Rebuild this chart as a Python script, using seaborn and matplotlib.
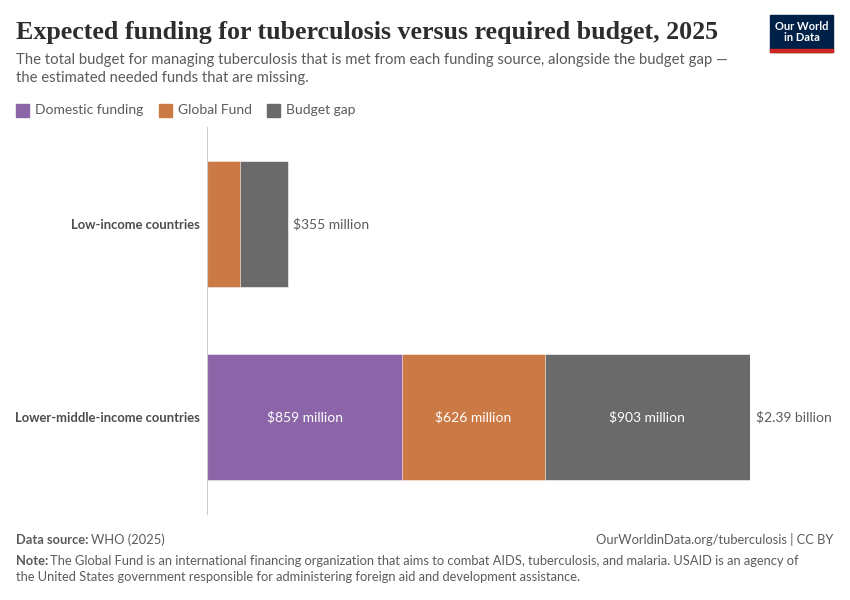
import pandas as pd
import numpy as np
import matplotlib
matplotlib.use("Agg")
import matplotlib.pyplot as plt
import seaborn as sns
from matplotlib.patches import Rectangle

# data (million US$)
countries = ["Low-income countries", "Lower-middle-income countries"]
domestic = [0, 859]
global_fund = [147, 626]
budget_gap = [208, 903]
total_labels = ["$355 million", "$2.39 billion"]
seg_labels = {
    "Domestic funding": [None, "$859 million"],
    "Global Fund": [None, "$626 million"],
    "Budget gap": [None, "$903 million"],
}

colors = {"Domestic funding": "#8c65a8", "Global Fund": "#cc7a45", "Budget gap": "#6a6a6a"}

sns.set_theme(style="white")
plt.rcParams["font.family"] = ["Lato", "DejaVu Sans"]

df = pd.DataFrame({
    "country": countries,
    "Domestic funding": domestic,
    "Global Fund": global_fund,
    "Budget gap": budget_gap,
})
df["cum1"] = df["Domestic funding"]
df["cum2"] = df["cum1"] + df["Global Fund"]
df["cum3"] = df["cum2"] + df["Budget gap"]

fig = plt.figure(figsize=(8.5, 6), dpi=100)
ax = fig.add_axes([207 / 850, 1 - 514 / 600, (750 - 207) / 850, (514 - 127) / 600])

# stacked bars: draw the cumulative totals back to front
for col, name in [("cum3", "Budget gap"), ("cum2", "Global Fund"), ("cum1", "Domestic funding")]:
    sns.barplot(data=df, x=col, y="country", orient="h", color=colors[name],
                width=0.65, ax=ax, saturation=1, edgecolor="white", linewidth=0.4)

ax.set_xlim(0, df["cum3"].max())
ax.set_ylim(1.5, -0.5)
ax.set_xlabel("")
ax.set_ylabel("")
ax.set_xticks([])
for s in ["top", "right", "bottom"]:
    ax.spines[s].set_visible(False)
ax.spines["left"].set_color("#cccccc")
ax.spines["left"].set_linewidth(0.8)
ax.tick_params(axis="y", length=0, pad=5)
for lab in ax.get_yticklabels():
    lab.set_fontweight("bold")
    lab.set_fontsize(9.4)
    lab.set_color("#4d4d4d")

# segment labels
starts = {"Domestic funding": np.zeros(2), "Global Fund": df["cum1"].values, "Budget gap": df["cum2"].values}
vals = {"Domestic funding": df["Domestic funding"].values, "Global Fund": df["Global Fund"].values,
        "Budget gap": df["Budget gap"].values}
for name, labs in seg_labels.items():
    for i, t in enumerate(labs):
        if t:
            ax.text(starts[name][i] + vals[name][i] / 2, i, t, ha="center", va="center",
                    color="white", fontsize=10)
for i, t in enumerate(total_labels):
    ax.text(df["cum3"][i] + 25, i, t, ha="left", va="center", color="#5b5b5b",
            fontsize=10, clip_on=False)

# header
fig.text(16 / 850, 1 - 33 / 600, "Expected funding for tuberculosis versus required budget, 2025",
         family=["Liberation Serif", "DejaVu Serif"], fontsize=18.7, fontweight="bold",
         color="#2d2d2d", va="center")
fig.text(16 / 850, 1 - 60 / 600,
         "The total budget for managing tuberculosis that is met from each funding source, alongside the budget gap \u2014",
         fontsize=10.7, color="#5b5b5b", va="center")
fig.text(16 / 850, 1 - 78 / 600, "the estimated needed funds that are missing.",
         fontsize=10.7, color="#5b5b5b", va="center")

# legend
x = 16
for name, w in [("Domestic funding", 143), ("Global Fund", 108), ("Budget gap", 100)]:
    fig.patches.append(Rectangle((x / 850, 1 - 117 / 600), 13 / 850, 13 / 600,
                                 transform=fig.transFigure, color=colors[name]))
    fig.text((x + 19) / 850, 1 - 110 / 600, name, fontsize=10, color="#5b5b5b", va="center")
    x += w

# logo
fig.patches.append(Rectangle((770 / 850, 1 - 52 / 600), 63 / 850, 37 / 600,
                             transform=fig.transFigure, color="#002147"))
fig.patches.append(Rectangle((770 / 850, 1 - 52 / 600), 63 / 850, 3 / 600,
                             transform=fig.transFigure, color="#ce261e"))
fig.text(801.5 / 850, 1 - 32 / 600, "Our World\nin Data", ha="center", va="center",
         fontsize=8, color="white", fontweight="bold", linespacing=1.0)

# footer
fs = 9.3
t1 = fig.text(16 / 850, 1 - 540 / 600, "Data source:", fontsize=fs, color="#5b5b5b",
              fontweight="bold", va="center")
ax.annotate("WHO (2025)", xy=(1, 0.5), xycoords=t1, xytext=(1.5, 0), textcoords="offset points",
            fontsize=fs, color="#5b5b5b", va="center", annotation_clip=False)
fig.text(833 / 850, 1 - 540 / 600, "OurWorldinData.org/tuberculosis | CC BY", fontsize=fs,
         color="#5b5b5b", va="center", ha="right")
t2 = fig.text(16 / 850, 1 - 561 / 600, "Note:", fontsize=fs, color="#5b5b5b",
              fontweight="bold", va="center")
ax.annotate("The Global Fund is an international financing organization that aims to combat AIDS, tuberculosis, and malaria. USAID is an agency of",
            xy=(1, 0.5), xycoords=t2, xytext=(1.5, 0), textcoords="offset points",
            fontsize=fs, color="#5b5b5b", va="center", annotation_clip=False)
fig.text(16 / 850, 1 - 577 / 600,
         "the United States government responsible for administering foreign aid and development assistance.",
         fontsize=fs, color="#5b5b5b", va="center")

fig.savefig("out.png", dpi=100)
